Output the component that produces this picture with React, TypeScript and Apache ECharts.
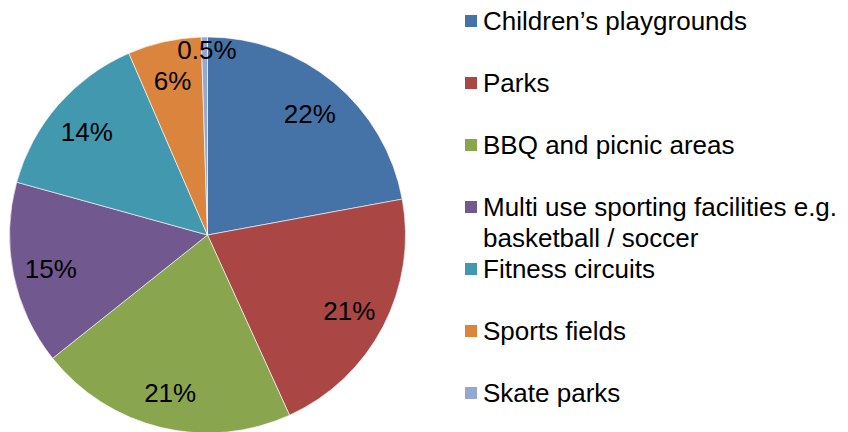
import React, { useEffect, useRef } from "react";
import * as echarts from "echarts";

const categories = [
  "Children’s playgrounds",
  "Parks",
  "BBQ and picnic areas",
  "Multi use sporting facilities e.g. basketball / soccer",
  "Fitness circuits",
  "Sports fields",
  "Skate parks",
];
const legendLabels = [
  "Children’s playgrounds",
  "Parks",
  "BBQ and picnic areas",
  "\nMulti use sporting facilities e.g.\nbasketball / soccer",
  "Fitness circuits",
  "Sports fields",
  "Skate parks",
];
const values = [22.1, 21.1, 21.1, 15.0, 14.2, 6.0, 0.5];
const colors = ["#4572A7", "#AA4643", "#89A54E", "#71588F", "#4198AF", "#DB843D", "#93A9CF"];

const FONT = "'Liberation Sans', Arial, sans-serif";

export default function App() {
  const ref = useRef<HTMLDivElement>(null);
  useEffect(() => {
    if (!ref.current) return;
    const chart = echarts.init(ref.current, undefined, { renderer: "svg" });
    const pieData = categories.map((name, i) => ({ name, value: values[i] }));
    const labelData = categories.map((name, i) => ({
      name,
      value: values[i],
      label: values[i] < 1 ? { offset: [2, -25] } : undefined,
    }));
    const lineH = 31;
    const centers = [21, 83, 145, 207, 269, 331, 393];
    const legends = categories.map((name, i) => {
      const lines = legendLabels[i].split("\n").length;
      return {
        orient: "vertical",
        left: 463,
        top: centers[i] - (lines * lineH) / 2,
        padding: 0,
        itemWidth: 14,
        itemHeight: 14,
        icon: "rect",
        selectedMode: false,
        data: [name],
        formatter: () => legendLabels[i],
        textStyle: { fontFamily: FONT, fontSize: 26, color: "#000", lineHeight: lineH },
      };
    });
    chart.setOption({
      animation: false,
      color: colors,
      legend: legends,
      series: [
        {
          type: "pie",
          center: [207.5, 235],
          radius: [0, 198],
          startAngle: 90,
          clockwise: true,
          silent: true,
          label: { show: false },
          labelLine: { show: false },
          itemStyle: { borderColor: "#ffffff", borderWidth: 0.6 },
          data: pieData,
        },
        {
          type: "pie",
          center: [207.5, 235],
          radius: [116, 198],
          startAngle: 90,
          clockwise: true,
          silent: true,
          itemStyle: { color: "rgba(0,0,0,0)" },
          labelLine: { show: false },
          label: {
            show: true,
            position: "inside",
            fontFamily: FONT,
            fontSize: 26,
            color: "#000",
            offset: [0, 2],
            formatter: (p: any) =>
              (p.value < 1 ? p.value.toFixed(1) : Math.round(p.value)) + "%",
          },
          data: labelData,
        },
      ],
    });
    return () => chart.dispose();
  }, []);
  return (
    <div
      ref={ref}
      style={{ position: "fixed", left: 0, top: 0, width: 848, height: 432, background: "#fff" }}
    />
  );
}
